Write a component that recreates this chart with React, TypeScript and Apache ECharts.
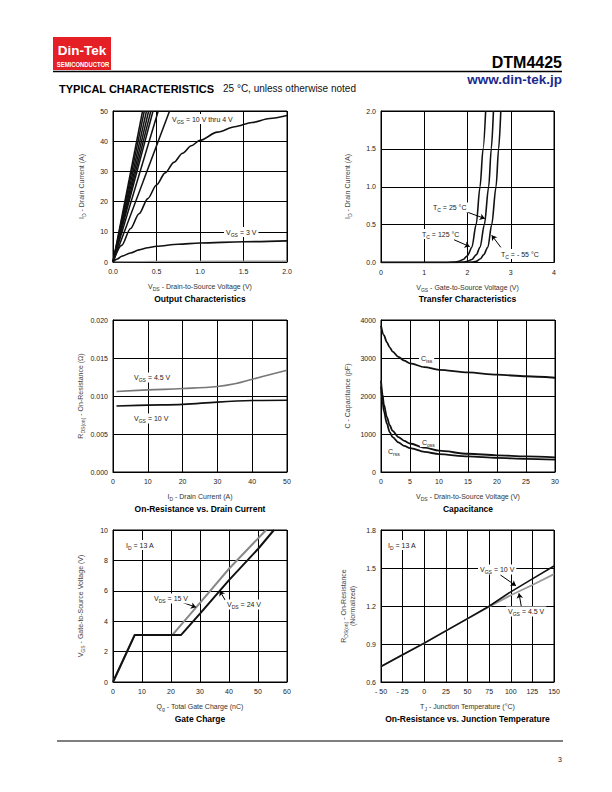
import React, { useEffect, useRef } from 'react';
import * as echarts from 'echarts';

const FONT = '"Liberation Sans", Arial, Helvetica, sans-serif';

// ---------- Output Characteristics (ID vs VDS) ----------
const outVgs10 = [[0, 0], [0.34, 50]];
const outVgs9 = [[0, 0], [0.36, 50]];
const outVgs8 = [[0, 0], [0.385, 50]];
const outVgs7 = [[0, 0], [0.41, 50]];
const outVgs6 = [[0, 0], [0.435, 50]];
const outVgs5 = [[0, 0], [0.46, 50]];
const outVgs45 = [[0, 0], [0.52, 50]];
const outVgs42 = [[0, 0], [0.65, 50]];
const outVgs4 = [[0, 0], [0.1, 5.5], [0.2, 11], [0.3, 16], [0.4, 21], [0.5, 25.5], [0.6, 29.5], [0.7, 33], [0.8, 36], [0.9, 38.5], [1.0, 40.3], [1.2, 43], [1.4, 44.8], [1.6, 46.2], [1.8, 47.5], [2.0, 48.5]];
const outVgs3 = [[0, 0], [0.05, 1.0], [0.1, 1.9], [0.2, 3.0], [0.3, 4.0], [0.4, 4.7], [0.5, 5.2], [0.75, 5.9], [1.0, 6.3], [1.5, 6.7], [2.0, 7.0]];
const outVgs2 = [[0, 0], [0.5, 0.2], [2.0, 0.3]];

// ---------- Transfer Characteristics (ID vs VGS) ----------
const tr125 = [[0, 0], [1.5, 0], [1.7, 0.005], [1.8, 0.015], [1.9, 0.04], [2.0, 0.09], [2.1, 0.2], [2.2, 0.5], [2.29, 1.0], [2.36, 1.5], [2.42, 2.0]];
const tr25 = [[0, 0], [1.7, 0], [1.9, 0.005], [2.0, 0.015], [2.1, 0.04], [2.2, 0.1], [2.29, 0.2], [2.39, 0.5], [2.49, 1.0], [2.55, 1.5], [2.6, 2.0]];
const trM55 = [[0, 0], [1.9, 0], [2.1, 0.005], [2.2, 0.015], [2.3, 0.05], [2.37, 0.1], [2.47, 0.2], [2.56, 0.5], [2.66, 1.0], [2.72, 1.5], [2.77, 2.0]];

// ---------- On-Resistance vs Drain Current ----------
const rdsVgs45 = [[1, 0.0106], [10, 0.0108], [20, 0.01098], [30, 0.01125], [35, 0.0116], [40, 0.0122], [50, 0.0134]];
const rdsVgs10 = [[1, 0.00868], [10, 0.0088], [20, 0.0089], [30, 0.0092], [40, 0.0094], [50, 0.00945]];

// ---------- Capacitance ----------
const capCiss = [[0, 3850], [0.5, 3600], [1, 3420], [1.5, 3280], [2, 3170], [3, 3030], [4, 2930], [5, 2860], [7.5, 2760], [10, 2690], [15, 2620], [20, 2560], [25, 2520], [30, 2480]];
const capCoss = [[0, 2400], [0.25, 2050], [0.5, 1780], [1, 1450], [1.5, 1230], [2, 1080], [3, 920], [4, 820], [5, 750], [7.5, 640], [10, 560], [15, 480], [20, 440], [25, 410], [30, 385]];
const capCrss = [[0, 2250], [0.25, 1880], [0.5, 1600], [1, 1280], [1.5, 1050], [2, 920], [3, 780], [4, 690], [5, 630], [7.5, 530], [10, 470], [15, 410], [20, 370], [25, 345], [30, 325]];

// ---------- Gate Charge ----------
const qgVds15 = [[0, 0], [7.5, 3.1], [20.5, 3.1], [30, 5.2], [40, 7.45], [52.8, 10]];
const qgVds24 = [[0, 0], [7.5, 3.1], [23.5, 3.1], [30, 4.5], [40, 6.7], [50, 8.75], [55.5, 10]];

// ---------- On-Resistance vs Junction Temperature ----------
const rtVgs10 = [[-50, 0.722], [-25, 0.815], [0, 0.907], [25, 1.004], [50, 1.1], [75, 1.198], [100, 1.312], [125, 1.414], [150, 1.516]];
const rtVgs45 = [[-50, 0.722], [-25, 0.815], [0, 0.907], [25, 1.004], [50, 1.1], [75, 1.195], [100, 1.285], [125, 1.366], [150, 1.452]];

// axis ranges [min, max, interval]
const xRanges = [[0, 2, 0.5], [0, 4, 1], [0, 50, 10], [0, 30, 5], [0, 60, 10], [-50, 150, 25]];
const yRanges = [[0, 50, 10], [0, 2, 0.5], [0, 0.02, 0.005], [0, 4000, 1000], [0, 10, 2], [0.6, 1.8, 0.3]];
const xFormat = [
  (v: number) => v.toFixed(1),
  (v: number) => String(v),
  (v: number) => String(v),
  (v: number) => String(v),
  (v: number) => String(v),
  (v: number) => (v < 0 ? '- ' + -v : String(v)),
];
const yFormat = [
  (v: number) => String(Math.round(v)),
  (v: number) => v.toFixed(1),
  (v: number) => v.toFixed(3),
  (v: number) => String(Math.round(v)),
  (v: number) => String(Math.round(v)),
  (v: number) => v.toFixed(1),
];

const grids = [
  { left: 113, top: 111, width: 174, height: 151 },
  { left: 381, top: 111, width: 173, height: 151.5 },
  { left: 113, top: 320, width: 174, height: 152 },
  { left: 381, top: 320, width: 174, height: 152 },
  { left: 113, top: 530, width: 174, height: 152 },
  { left: 381, top: 530, width: 173, height: 152 },
];

const chartTitles = ['Output Characteristics', 'Transfer Characteristics', 'On-Resistance vs. Drain Current', 'Capacitance', 'Gate Charge', 'On-Resistance vs. Junction Temperature'];
const xTitles = ['V_{DS} - Drain-to-Source Voltage (V)', 'V_{GS} - Gate-to-Source Voltage (V)', 'I_{D} - Drain Current (A)', 'V_{DS} - Drain-to-Source Voltage (V)', 'Q_{g} - Total Gate Charge (nC)', 'T_{J} - Junction Temperature (°C)'];

function richOf(s: string) {
  return s
    .split(/(_\{[^}]*\})/)
    .filter((p) => p.length)
    .map((p) => {
      const m = p.match(/^_\{([^}]*)\}$/);
      return m ? `{s|${m[1]}}` : `{n|${p}}`;
    })
    .join('');
}

function txt(str: string, x: number, y: number, opt: any = {}) {
  const size = opt.size ?? 7;
  const color = opt.color ?? '#222';
  const weight = opt.weight ?? 'normal';
  return {
    type: 'text',
    x,
    y,
    rotation: opt.rot ?? 0,
    scaleX: opt.scaleX ?? 1,
    z: 100,
    silent: true,
    style: {
      text: richOf(str),
      align: opt.align ?? 'left',
      verticalAlign: 'middle',
      backgroundColor: opt.bg,
      padding: opt.bg ? [0, 2] : 0,
      rich: {
        n: { fontSize: size, fontFamily: FONT, fontWeight: weight, fill: color, lineHeight: size + 3 },
        s: { fontSize: size * 0.72, fontFamily: FONT, fontWeight: weight, fill: color, lineHeight: size + 3, verticalAlign: 'bottom' },
      },
    },
  };
}

function line(data: number[][], g: number, color: string, width: number, extra: any = {}) {
  return {
    type: 'line',
    xAxisIndex: g,
    yAxisIndex: g,
    data,
    symbol: 'none',
    showSymbol: false,
    silent: true,
    clip: true,
    lineStyle: { color, width },
    z: 3,
    ...extra,
  };
}

function arrows(list: number[][][]) {
  return {
    markLine: {
      silent: true,
      symbol: ['none', 'arrow'],
      symbolSize: 5,
      label: { show: false },
      lineStyle: { color: '#000', width: 1, type: 'solid' },
      data: list.map(([a, b]) => [{ coord: a }, { coord: b }]),
    },
  };
}

export default function App() {
  const ref = useRef<HTMLDivElement>(null);
  useEffect(() => {
    if (!ref.current) return;
    const chart = echarts.init(ref.current, null, { renderer: 'svg' });
    const smooth = { smooth: 0.3, smoothMonotone: 'x' };
    const series: any[] = [
      line(outVgs2, 0, '#999', 1.2),
      line(outVgs10, 0, '#111', 1.5),
      line(outVgs9, 0, '#111', 1.5),
      line(outVgs8, 0, '#111', 1.5),
      line(outVgs7, 0, '#111', 1.5),
      line(outVgs6, 0, '#111', 1.5),
      line(outVgs5, 0, '#111', 1.5),
      line(outVgs45, 0, '#111', 1.5),
      line(outVgs42, 0, '#111', 1.5),
      line(outVgs4, 0, '#111', 1.6, smooth),
      line(outVgs3, 0, '#111', 1.6, smooth),
      line(tr125, 1, '#111', 1.6, smooth),
      line(tr25, 1, '#111', 1.6, smooth),
      line(trM55, 1, '#111', 1.6, {
        ...smooth,
        ...arrows([
          [[1.83, 0.7], [2.4, 0.58]],
          [[1.69, 0.3], [2.05, 0.21]],
          [[2.77, 0.2], [2.56, 0.36]],
        ]),
      }),
      line(rdsVgs45, 2, '#777', 1.6, { smooth: 0.4 }),
      line(rdsVgs10, 2, '#111', 1.6, { smooth: 0.4 }),
      line(capCiss, 3, '#111', 1.8, smooth),
      line(capCoss, 3, '#111', 1.8, smooth),
      line(capCrss, 3, '#111', 1.8, smooth),
      line(qgVds15, 4, '#888', 2),
      line(qgVds24, 4, '#111', 2, arrows([
        [[23, 5.3], [28.6, 4.92]],
        [[38.8, 5.35], [36.8, 6.0]],
      ])),
      line(rtVgs45, 5, '#999', 1.8),
      line(rtVgs10, 5, '#111', 1.6, {
        ...arrows([
          [[88, 1.445], [106, 1.36]],
          [[112.4, 1.19], [109.5, 1.3]],
        ]),
      }),
    ];

    const axisCommon = (fmt: (v: number) => string) => ({
      type: 'value',
      axisLine: { show: true, onZero: false, lineStyle: { color: '#000', width: 1 } },
      axisTick: { show: false },
      splitLine: { show: true, lineStyle: { color: '#000', width: 1 } },
      axisLabel: { fontSize: 7, color: '#222', fontFamily: FONT, formatter: fmt, showMinLabel: true, showMaxLabel: true },
    });

    const xAxis = xRanges.map((r, i) => ({
      ...axisCommon(xFormat[i]),
      gridIndex: i,
      min: r[0],
      max: r[1],
      interval: r[2],
      axisLabel: { ...axisCommon(xFormat[i]).axisLabel, margin: 6 },
    }));
    const yAxis = yRanges.map((r, i) => ({
      ...axisCommon(yFormat[i]),
      gridIndex: i,
      min: r[0],
      max: r[1],
      interval: r[2],
      axisLabel: { ...axisCommon(yFormat[i]).axisLabel, margin: 5 },
    }));

    const graphics: any[] = [
      // header
      { type: 'rect', shape: { x: 53, y: 37, width: 58, height: 33 }, style: { fill: '#e41f26' }, silent: true },
      txt('Din-Tek', 82, 50.5, { size: 13.5, weight: 'bold', color: '#fff', align: 'center' }),
      txt('SEMICONDUCTOR', 83, 64.5, { size: 7, weight: 'bold', color: '#fff', align: 'center', scaleX: 0.84 }),
      txt('DTM4425', 562, 62, { size: 16, weight: 'bold', color: '#000', align: 'right' }),
      { type: 'line', shape: { x1: 53, y1: 71.5, x2: 562, y2: 71.5 }, style: { stroke: '#000', lineWidth: 1.3 }, silent: true },
      txt('www.din-tek.jp', 562, 79.5, { size: 13.5, weight: 'bold', color: '#1b2a8c', align: 'right' }),
      txt('TYPICAL CHARACTERISTICS', 59, 88.5, { size: 11, weight: 'bold', color: '#000' }),
      txt('25 °C, unless otherwise noted', 223, 88.5, { size: 10, color: '#111' }),
      // footer
      { type: 'line', shape: { x1: 57, y1: 741, x2: 563, y2: 741 }, style: { stroke: '#000', lineWidth: 1.2 }, silent: true },
      txt('3', 560, 759, { size: 7, color: '#222', align: 'center' }),
      // y titles
      txt('I_{D} - Drain Current (A)', 81, 186.5, { rot: Math.PI / 2, align: 'center', color: '#444' }),
      txt('I_{D} - Drain Current (A)', 347, 186.5, { rot: Math.PI / 2, align: 'center', color: '#444' }),
      txt('R_{DS(on)} - On-Resistance (Ω)', 80, 396, { rot: Math.PI / 2, align: 'center', color: '#444' }),
      txt('C - Capacitance (pF)', 347, 396, { rot: Math.PI / 2, align: 'center', color: '#444' }),
      txt('V_{GS} - Gate-to-Source Voltage (V)', 80, 606, { rot: Math.PI / 2, align: 'center', color: '#444' }),
      txt('R_{DS(on)} - On-Resistance', 343, 606, { rot: Math.PI / 2, align: 'center', color: '#444' }),
      txt('(Normalized)', 352, 606, { rot: Math.PI / 2, align: 'center', color: '#444' }),
      // annotations
      txt('V_{GS} = 10 V thru 4 V', 170, 119, { bg: '#fff' }),
      txt('V_{GS} = 3 V', 224, 232, { bg: '#fff' }),
      txt('T_{C} = 25 °C', 431, 207.5, { bg: '#fff' }),
      txt('T_{C} = 125 °C', 420, 234, { bg: '#fff' }),
      txt('T_{C} = - 55 °C', 499, 254, { bg: '#fff' }),
      txt('V_{GS} = 4.5 V', 132, 377.5, { bg: '#fff' }),
      txt('V_{GS} = 10 V', 132, 418.5, { bg: '#fff' }),
      txt('C_{iss}', 419, 358.5, { bg: '#fff' }),
      txt('C_{oss}', 420, 442, { bg: '#fff' }),
      txt('C_{rss}', 386, 451, { bg: '#fff' }),
      txt('I_{D} = 13 A', 124, 545, { bg: '#fff' }),
      txt('V_{DS} = 15 V', 152, 598.5, { bg: '#fff' }),
      txt('V_{DS} = 24 V', 225, 604.5, { bg: '#fff' }),
      txt('I_{D} = 13 A', 386, 545, { bg: '#fff' }),
      txt('V_{GS} = 10 V', 478, 569.5, { bg: '#fff' }),
      txt('V_{GS} = 4.5 V', 506, 611.5, { bg: '#fff' }),
    ];
    grids.forEach((g, i) => {
      const cx = g.left + g.width / 2;
      const bottom = g.top + g.height;
      graphics.push(txt(xTitles[i], cx, bottom + 24.5, { align: 'center', color: '#333' }));
      graphics.push(txt(chartTitles[i], cx, bottom + 36.5, { align: 'center', color: '#000', weight: 'bold', size: 8.5 }));
    });

    chart.setOption({
      animation: false,
      backgroundColor: '#fff',
      grid: grids.map((g) => ({ ...g, show: true, borderColor: '#000', borderWidth: 1, containLabel: false })),
      xAxis,
      yAxis,
      series,
      graphic: { elements: graphics },
    });
    return () => chart.dispose();
  }, []);
  return <div ref={ref} style={{ position: 'absolute', left: 0, top: 0, width: 612, height: 792, background: '#fff' }} />;
}
